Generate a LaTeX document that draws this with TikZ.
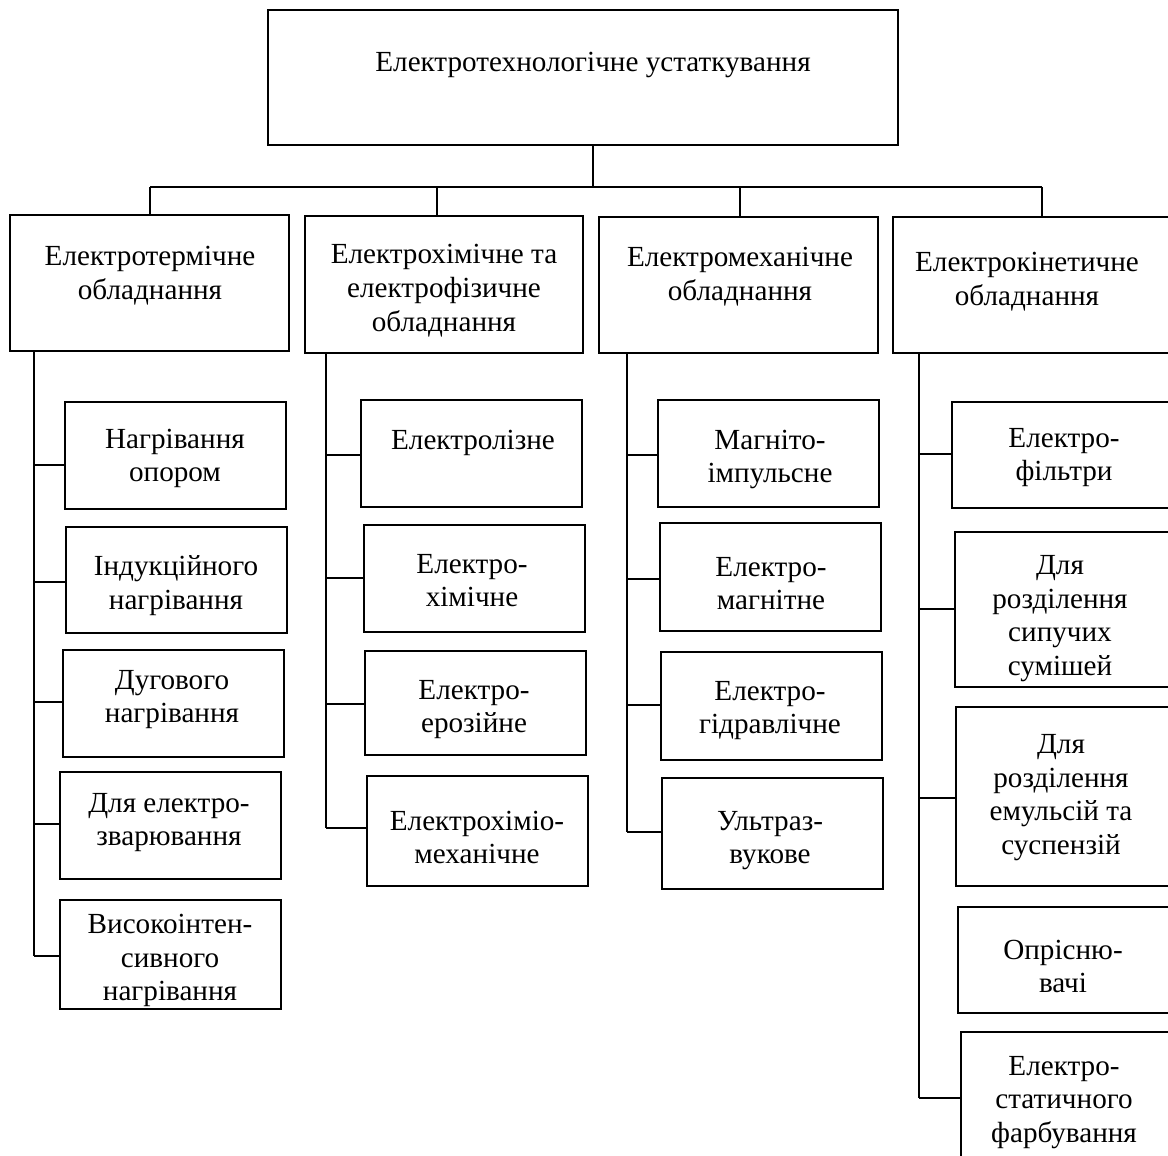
\documentclass[tikz,border=0pt]{standalone}
\usepackage{fontspec}
\setmainfont{Liberation Serif}
\usetikzlibrary{fit}
\begin{document}
\begin{tikzpicture}[x=0.02cm,y=-0.02cm,
  box/.style={draw, line width=1pt, inner sep=0pt, fit={#1}},
  lbl/.style={align=center, font=\fontsize{16.6}{19.2}\selectfont, inner sep=0pt, yshift=-0.05cm},
  wire/.style={line width=1pt}]
\clip (0,0) rectangle (1168,1155);
\fill[white] (0,0) rectangle (1168,1155);
% top
\node[box={(268,10)(898,145)}] (top) {};
\node[lbl] (topt) at (593,62) {Електротехнологічне устаткування};
% level 1
\node[box={(10,215)(289,351)}] (b1) {};
\node[box={(305,216)(583,353)}] (b2) {};
\node[box={(599,217)(878,353)}] (b3) {};
\node[box={(893,217)(1175,353)}] (b4) {};
\node[lbl] (b1t) at (150,273) {Електротермічне\\обладнання};
\node[lbl] (b2t) at (444,288) {Електрохімічне та\\електрофізичне\\обладнання};
\node[lbl] (b3t) at (740,274) {Електромеханічне\\обладнання};
\node[lbl] (b4t) at (1027,279) {Електрокінетичне\\обладнання};
% bus
\coordinate (bus0) at (593,187);
\coordinate (bus1) at (150,187);
\coordinate (bus2) at (437,187);
\coordinate (bus3) at (740,187);
\coordinate (bus4) at (1042,187);
\draw[wire] (bus0 |- top.south) -- (bus0);
\draw[wire] (bus1) -- (bus4);
\draw[wire] (bus1) -- (bus1 |- b1.north);
\draw[wire] (bus2) -- (bus2 |- b2.north);
\draw[wire] (bus3) -- (bus3 |- b3.north);
\draw[wire] (bus4) -- (bus4 |- b4.north);
% column 1
\node[box={(65,402)(286,509)}] (c11) {};
\node[box={(66,527)(287,633)}] (c12) {};
\node[box={(63,650)(284,757)}] (c13) {};
\node[box={(60,772)(281,879)}] (c14) {};
\node[box={(60,900)(281,1009)}] (c15) {};
\node[lbl] (c11t) at (175,456) {Нагрівання\\опором};
\node[lbl] (c12t) at (176,583) {Індукційного\\нагрівання};
\node[lbl] (c13t) at (172,697) {Дугового\\нагрівання};
\node[lbl] (c14t) at (169,820) {Для електро-\\зварювання};
\node[lbl] (c15t) at (170,958) {Високоінтен-\\сивного\\нагрівання};
\coordinate (s1) at (34,351);
\coordinate (k11) at (34,465);
\coordinate (k12) at (34,582);
\coordinate (k13) at (34,702);
\coordinate (k14) at (34,824);
\coordinate (k15) at (34,956);
\draw[wire] (s1) -- (k15);
\draw[wire] (k11) -- (k11 -| c11.west);
\draw[wire] (k12) -- (k12 -| c12.west);
\draw[wire] (k13) -- (k13 -| c13.west);
\draw[wire] (k14) -- (k14 -| c14.west);
\draw[wire] (k15) -- (k15 -| c15.west);
% column 2
\node[box={(361,400)(582,507)}] (c21) {};
\node[box={(364,525)(585,632)}] (c22) {};
\node[box={(365,651)(586,755)}] (c23) {};
\node[box={(367,776)(588,886)}] (c24) {};
\node[lbl] (c21t) at (473,440) {Електролізне};
\node[lbl] (c22t) at (472,578) {Електро-\\хімічне};
\node[lbl] (c23t) at (474,707) {Електро-\\ерозійне};
\node[lbl] (c24t) at (477,835) {Електрохіміо-\\механічне};
\coordinate (s2) at (326,353);
\coordinate (k21) at (326,455);
\coordinate (k22) at (326,578);
\coordinate (k23) at (326,704);
\coordinate (k24) at (326,828);
\draw[wire] (s2) -- (k24);
\draw[wire] (k21) -- (k21 -| c21.west);
\draw[wire] (k22) -- (k22 -| c22.west);
\draw[wire] (k23) -- (k23 -| c23.west);
\draw[wire] (k24) -- (k24 -| c24.west);
% column 3
\node[box={(658,400)(879,507)}] (c31) {};
\node[box={(660,523)(881,631)}] (c32) {};
\node[box={(661,652)(882,760)}] (c33) {};
\node[box={(662,778)(883,889)}] (c34) {};
\node[lbl] (c31t) at (770,457) {Магніто-\\імпульсне};
\node[lbl] (c32t) at (771,581) {Електро-\\магнітне};
\node[lbl] (c33t) at (770,708) {Електро-\\гідравлічне};
\node[lbl] (c34t) at (770,838) {Ультраз-\\вукове};
\coordinate (s3) at (627,353);
\coordinate (k31) at (627,455);
\coordinate (k32) at (627,579);
\coordinate (k33) at (627,705);
\coordinate (k34) at (627,832);
\draw[wire] (s3) -- (k34);
\draw[wire] (k31) -- (k31 -| c31.west);
\draw[wire] (k32) -- (k32 -| c32.west);
\draw[wire] (k33) -- (k33 -| c33.west);
\draw[wire] (k34) -- (k34 -| c34.west);
% column 4
\node[box={(952,402)(1175,508)}] (c41) {};
\node[box={(955,532)(1175,687)}] (c42) {};
\node[box={(956,707)(1175,886)}] (c43) {};
\node[box={(958,907)(1175,1013)}] (c44) {};
\node[box={(961,1032)(1175,1170)}] (c45) {};
\node[lbl] (c41t) at (1064,455) {Електро-\\фільтри};
\node[lbl] (c42t) at (1060,616) {Для\\розділення\\сипучих\\сумішей};
\node[lbl] (c43t) at (1061,795) {Для\\розділення\\емульсій та\\суспензій};
\node[lbl] (c44t) at (1063,964) {Опрісню-\\вачі};
\node[lbl] (c45t) at (1064,1100) {Електро-\\статичного\\фарбування};
\coordinate (s4) at (919,353);
\coordinate (k41) at (919,454);
\coordinate (k42) at (919,609);
\coordinate (k43) at (919,798);
\coordinate (k45) at (919,1098);
\draw[wire] (s4) -- (k45);
\draw[wire] (k41) -- (k41 -| c41.west);
\draw[wire] (k42) -- (k42 -| c42.west);
\draw[wire] (k43) -- (k43 -| c43.west);
\draw[wire] (k45) -- (k45 -| c45.west);
\end{tikzpicture}
\end{document}
